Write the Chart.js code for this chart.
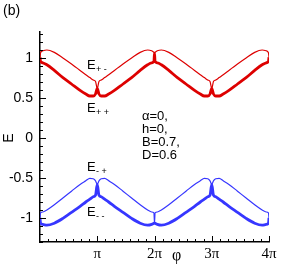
<!DOCTYPE html>
<html>
<head>
<meta charset="utf-8">
<script src="https://cdn.jsdelivr.net/npm/chart.js@4.4.1/dist/chart.umd.min.js"></script>
<style>
  html, body { margin: 0; padding: 0; background: #fff; }
  #wrap { width: 307px; height: 273px; }
</style>
</head>
<body>
<div id="wrap"><canvas id="bandChart" width="307" height="273"></canvas></div>
<script>
// phase, in units of pi
const phi = [
    0, 0.01, 0.05, 0.12, 0.25, 0.4, 0.55, 0.7, 0.8, 0.87, 0.93, 0.97,
    1, 1.03, 1.07, 1.13, 1.2, 1.3, 1.45, 1.6, 1.75, 1.88, 1.95, 1.99,
    2, 2.01, 2.05, 2.12, 2.25, 2.4, 2.55, 2.7, 2.8, 2.87, 2.93, 2.97,
    3, 3.03, 3.07, 3.13, 3.2, 3.3, 3.45, 3.6, 3.75, 3.88, 3.95, 3.99, 4
];

// E+- (thin red)
const ePlusMinus = [
    1.01, 1.065, 1.09, 1.10, 1.07, 1.00, 0.925, 0.845, 0.79, 0.755, 0.725, 0.705,
    0.62, 0.705, 0.725, 0.755, 0.79, 0.845, 0.925, 1.00, 1.07, 1.10, 1.09, 1.07,
    1.06, 1.07, 1.09, 1.10, 1.07, 1.00, 0.925, 0.845, 0.79, 0.755, 0.725, 0.705,
    0.62, 0.705, 0.725, 0.755, 0.79, 0.845, 0.925, 1.00, 1.07, 1.10, 1.09, 1.065, 1.01
];

// E++ (thick red)
const ePlusPlus = [
    1.01, 0.955, 0.94, 0.915, 0.845, 0.755, 0.675, 0.595, 0.55, 0.525, 0.525, 0.55,
    0.62, 0.55, 0.525, 0.525, 0.55, 0.595, 0.675, 0.755, 0.845, 0.915, 0.94, 0.955,
    1.06, 0.955, 0.94, 0.915, 0.845, 0.755, 0.675, 0.595, 0.55, 0.525, 0.525, 0.55,
    0.62, 0.55, 0.525, 0.525, 0.55, 0.595, 0.675, 0.755, 0.845, 0.915, 0.94, 0.955, 1.01
];

// E-+ (thin blue)
const eMinusPlus = [
    -1.0, -0.935, -0.925, -0.90, -0.835, -0.75, -0.665, -0.58, -0.535, -0.505, -0.51, -0.535,
    -0.58, -0.535, -0.51, -0.505, -0.535, -0.58, -0.665, -0.75, -0.835, -0.90, -0.925, -0.935,
    -1.06, -0.935, -0.925, -0.90, -0.835, -0.75, -0.665, -0.58, -0.535, -0.505, -0.51, -0.535,
    -0.58, -0.535, -0.51, -0.505, -0.535, -0.58, -0.665, -0.75, -0.835, -0.90, -0.925, -0.935, -1.0
];

// E-- (thick blue)
const eMinusMinus = [
    -1.0, -1.065, -1.08, -1.09, -1.065, -1.005, -0.93, -0.855, -0.80, -0.765, -0.735, -0.715,
    -0.58, -0.715, -0.735, -0.765, -0.80, -0.855, -0.93, -1.005, -1.065, -1.09, -1.08, -1.065,
    -1.06, -1.065, -1.08, -1.09, -1.065, -1.005, -0.93, -0.855, -0.80, -0.765, -0.735, -0.715,
    -0.58, -0.715, -0.735, -0.765, -0.80, -0.855, -0.93, -1.005, -1.065, -1.09, -1.08, -1.065, -1.0
];

const xTickValues = [1, 2, 3, 4];
const xTickLabels = ['π', '2π', '3π', '4π'];
const yTickValues = [-1, -0.5, 0, 0.5, 1];
const yTickLabels = ['-1', '-0.5', '0', '0.5', '1'];

const RED = '#dd0000';
const BLUE = '#3636ff';

function toPoints(values) {
    return phi.map((p, i) => ({ x: p, y: values[i] }));
}

function curve(label, values, color, width) {
    return {
        label: label,
        data: toPoints(values),
        showLine: true,
        borderColor: color,
        borderWidth: width,
        pointRadius: 0,
        cubicInterpolationMode: 'monotone',
        fill: false
    };
}

// inward major/minor ticks like the original plot
const tickPlugin = {
    id: 'inwardTicks',
    afterDraw(chart) {
        const { ctx, chartArea } = chart;
        const xs = chart.scales.x;
        const ys = chart.scales.y;
        ctx.save();
        ctx.strokeStyle = '#000';
        ctx.lineWidth = 1;
        for (let k = -13; k <= 13; k++) {
            const py = Math.round(ys.getPixelForValue(k / 10)) + 0.5;
            const len = k % 5 === 0 ? 6 : 3;
            ctx.beginPath();
            ctx.moveTo(chartArea.left, py);
            ctx.lineTo(chartArea.left + len, py);
            ctx.stroke();
        }
        const sub = 7;
        for (let k = 1; k <= 4 * sub; k++) {
            const px = Math.round(xs.getPixelForValue(k / sub)) + 0.5;
            const len = k % sub === 0 ? 6 : 3;
            ctx.beginPath();
            ctx.moveTo(px, chartArea.bottom);
            ctx.lineTo(px, chartArea.bottom - len);
            ctx.stroke();
        }
        ctx.restore();
    }
};

const textPlugin = {
    id: 'annotations',
    afterDraw(chart) {
        const ctx = chart.ctx;
        ctx.save();
        ctx.fillStyle = '#000';
        ctx.textBaseline = 'middle';
        ctx.textAlign = 'left';

        ctx.font = '14px "Liberation Sans", Arial, sans-serif';
        ctx.fillText('(b)', 3, 11);

        // y title
        ctx.save();
        ctx.translate(9, 138);
        ctx.rotate(-Math.PI / 2);
        ctx.textAlign = 'center';
        ctx.fillText('E', 0, 0);
        ctx.restore();

        // x title
        ctx.font = '16px "Liberation Serif", "Times New Roman", serif';
        ctx.fillText('φ', 172, 256);

        // band labels
        const bands = [
            ['+ -', 65], ['+ +', 108], ['- +', 167], ['- -', 212]
        ];
        bands.forEach(([s, y]) => {
            ctx.font = '13px "Liberation Sans", Arial, sans-serif';
            ctx.fillText('E', 87, y);
            ctx.font = '9px "Liberation Sans", Arial, sans-serif';
            ctx.fillText(s, 96, y + 5);
        });

        ctx.font = '13px "Liberation Sans", Arial, sans-serif';
        ctx.fillText('α=0,', 142, 116);
        ctx.fillText('h=0,', 142, 129);
        ctx.fillText('B=0.7,', 142, 142);
        ctx.fillText('D=0.6', 142, 155);
        ctx.restore();
    }
};

const config = {
    type: 'scatter',
    data: {
        datasets: [
            curve('E+-', ePlusMinus, RED, 1.2),
            curve('E++', ePlusPlus, RED, 2.8),
            curve('E-+', eMinusPlus, BLUE, 1.2),
            curve('E--', eMinusMinus, BLUE, 2.8)
        ]
    },
    options: {
        responsive: false,
        animation: false,
        layout: {
            padding: { top: 32, right: 38, left: 0, bottom: 0 }
        },
        plugins: {
            legend: { display: false },
            tooltip: { enabled: false }
        },
        scales: {
            x: {
                type: 'linear',
                min: 0,
                max: 4,
                afterBuildTicks: (axis) => {
                    axis.ticks = xTickValues.map(v => ({ value: v }));
                },
                afterFit: (axis) => { axis.height = 31; },
                grid: { display: true, drawOnChartArea: false, drawTicks: false },
                border: { display: true, color: '#000', width: 1.5 },
                ticks: {
                    padding: 3,
                    color: '#000',
                    font: { family: '"Liberation Serif", "Times New Roman", serif', size: 15 },
                    maxRotation: 0,
                    callback: (value, index) => xTickLabels[index]
                }
            },
            y: {
                type: 'linear',
                min: -1.3,
                max: 1.325,
                afterBuildTicks: (axis) => {
                    axis.ticks = yTickValues.map(v => ({ value: v }));
                },
                afterFit: (axis) => { axis.width = 40; },
                grid: { display: true, drawOnChartArea: false, drawTicks: false },
                border: { display: true, color: '#000', width: 1.5 },
                ticks: {
                    padding: 7,
                    color: '#000',
                    font: { family: '"Liberation Sans", Arial, sans-serif', size: 14 },
                    callback: (value, index) => yTickLabels[index]
                }
            }
        }
    },
    plugins: [tickPlugin, textPlugin]
};

const ctx = document.getElementById('bandChart').getContext('2d');
const bandChart = new Chart(ctx, config);
</script>
</body>
</html>
